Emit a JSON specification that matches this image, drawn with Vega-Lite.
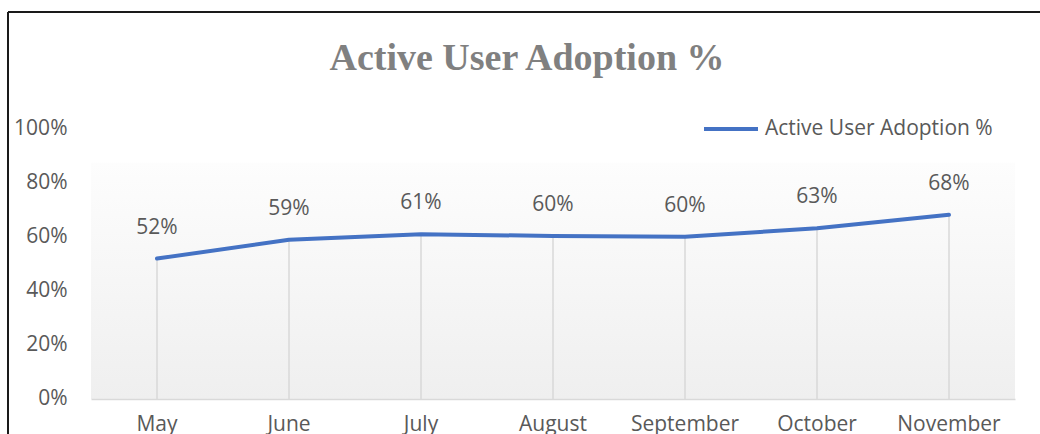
{
  "$schema": "https://vega.github.io/schema/vega-lite/v6.json",
  "autosize": {"type": "none"},
  "padding": {"left": 8, "top": 12, "right": 0, "bottom": 0},
  "width": 1032,
  "height": 422,
  "background": "white",
  "config": {
    "view": {"stroke": "#1a1a1a", "strokeWidth": 2, "strokeDash": [1032, 1454, 422, 0]},
    "font": "Open Sans"
  },
  "title": {
    "text": "Active User Adoption %",
    "font": "Liberation Serif",
    "fontSize": 38,
    "fontWeight": "bold",
    "color": "#808080",
    "anchor": "middle",
    "frame": "group",
    "baseline": "alphabetic",
    "offset": -56,
    "dx": 3,
    "dy": 40
  },
  "data": {
    "values": [
      {"month": "May", "value": 0.52},
      {"month": "June", "value": 0.59},
      {"month": "July", "value": 0.61},
      {"month": "August", "value": 0.604},
      {"month": "September", "value": 0.601},
      {"month": "October", "value": 0.632},
      {"month": "November", "value": 0.682}
    ]
  },
  "encoding": {
    "x": {
      "field": "month",
      "type": "nominal",
      "sort": null,
      "scale": {"range": [83, 1007], "paddingInner": 0, "paddingOuter": 0},
      "axis": {
        "title": null,
        "orient": "bottom",
        "offset": -35,
        "domainColor": "#d9d9d9",
        "domainWidth": 1.5,
        "ticks": false,
        "tickSize": 0,
        "labelPadding": 14,
        "labelFont": "Open Sans",
        "labelFontSize": 21,
        "labelColor": "#595959",
        "labelAngle": 0,
        "grid": false
      }
    }
  },
  "layer": [
    {
      "mark": {
        "type": "rect",
        "fill": {
          "gradient": "linear",
          "x1": 0, "y1": 0, "x2": 0, "y2": 1,
          "stops": [
            {"offset": 0, "color": "#fdfdfd"},
            {"offset": 1, "color": "#efefef"}
          ]
        }
      },
      "encoding": {
        "y": {
          "datum": 0,
          "type": "quantitative",
          "scale": {"domain": [-0.12963, 1.43333], "nice": false, "zero": false},
          "axis": {
            "title": null,
            "orient": "left",
            "offset": -59,
            "values": [0, 0.2, 0.4, 0.6, 0.8, 1],
            "format": ".0%",
            "domain": false,
            "ticks": false,
            "tickSize": 0,
            "grid": false,
            "labelPadding": 0,
            "labelFont": "Open Sans",
            "labelFontSize": 21,
            "labelColor": "#595959"
          }
        },
        "y2": {"datum": 0.875}
      }
    },
    {
      "mark": {"type": "rule", "color": "#d9d9d9", "strokeWidth": 1.5},
      "encoding": {
        "y": {"field": "value", "type": "quantitative"},
        "y2": {"datum": 0}
      }
    },
    {
      "mark": {"type": "line", "strokeWidth": 4, "strokeCap": "round", "strokeJoin": "round"},
      "encoding": {
        "y": {"field": "value", "type": "quantitative"},
        "color": {
          "datum": "Active User Adoption %",
          "scale": {"range": ["#4472c4"]},
          "legend": {
            "title": null,
            "orient": "none",
            "legendX": 694,
            "legendY": 88,
            "symbolType": "stroke",
            "symbolSize": 2916,
            "symbolStrokeWidth": 4,
            "labelFont": "Open Sans",
            "labelFontSize": 21,
            "labelColor": "#595959",
            "labelOffset": 5,
            "labelLimit": 400,
            "padding": 0
          }
        }
      }
    },
    {
      "mark": {"type": "text", "dy": -31, "baseline": "middle", "align": "center", "fontSize": 21, "color": "#595959", "font": "Open Sans"},
      "encoding": {
        "y": {"field": "value", "type": "quantitative"},
        "text": {"field": "value", "type": "quantitative", "format": ".0%"}
      }
    }
  ]
}
